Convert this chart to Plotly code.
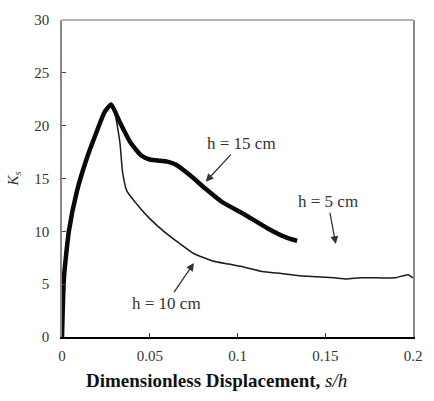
import plotly.graph_objects as go

# h = 15 cm (thick curve)
x15 = [0, 0.0003, 0.0011, 0.0039, 0.0085, 0.0141, 0.0197, 0.0243, 0.028, 0.033,
       0.039, 0.045, 0.050, 0.060, 0.065, 0.073, 0.082, 0.091, 0.104, 0.117,
       0.128, 0.134]
y15 = [0, 1.9, 5.6, 10.0, 13.8, 16.9, 19.4, 21.3, 22.0, 20.3,
       18.4, 17.2, 16.8, 16.6, 16.3, 15.3, 14.0, 12.8, 11.6, 10.3,
       9.4, 9.1]

# h = 10 cm (thin curve)
x10 = [0, 0.0003, 0.0011, 0.0039, 0.0085, 0.0141, 0.0197, 0.0243, 0.028, 0.030,
       0.033, 0.0345, 0.037, 0.043, 0.050, 0.058, 0.065, 0.075, 0.086, 0.095,
       0.104, 0.114, 0.125, 0.135, 0.145, 0.155, 0.162, 0.170, 0.180, 0.190,
       0.197, 0.200]
y10 = [0, 1.9, 5.6, 10.0, 13.8, 16.9, 19.4, 21.3, 22.0, 21.3,
       18.4, 15.6, 13.8, 12.5, 11.2, 10.0, 9.1, 7.9, 7.2, 6.9,
       6.6, 6.2, 6.0, 5.8, 5.7, 5.6, 5.5, 5.6, 5.6, 5.6,
       5.9, 5.6]

x_ticks = [0, 0.05, 0.1, 0.15, 0.2]
x_tick_labels = ["0", "0.05", "0.1", "0.15", "0.2"]
y_ticks = [0, 5, 10, 15, 20, 25, 30]
y_tick_labels = ["0", "5", "10", "15", "20", "25", "30"]

serif = "Liberation Serif"
txt = "#333333"

fig = go.Figure()
fig.add_trace(go.Scatter(x=x10, y=y10, mode="lines",
                         line=dict(color="#1a1a1a", width=1.5, shape="spline", smoothing=0.5),
                         showlegend=False))
fig.add_trace(go.Scatter(x=x15, y=y15, mode="lines",
                         line=dict(color="#0a0a0a", width=4.5, shape="spline", smoothing=0.5),
                         showlegend=False))

# (label, label x, label y, arrow head x, arrow head y)
labels = [
    ("h = 15 cm", 0.102, 18.3, 0.0819, 14.7),
    ("h = 5 cm", 0.1515, 12.8, 0.156, 8.8),
    ("h = 10 cm", 0.0596, 3.2, 0.0752, 7.0),
]
for text, lx, ly, hx, hy in labels:
    fig.add_annotation(x=hx, y=hy, ax=lx, ay=ly, axref="x", ayref="y",
                       text=text, showarrow=True, arrowhead=2, arrowsize=1.2,
                       arrowwidth=1.3, arrowcolor="#333333",
                       font=dict(family=serif, size=17, color=txt))

# x-axis title (slightly left of plot centre, as in the original)
fig.add_annotation(xref="paper", yref="paper", x=0.44, y=-0.137,
                   xanchor="center", yanchor="middle", showarrow=False,
                   text="<b>Dimensionless Displacement, </b><i>s/h</i>",
                   font=dict(family=serif, size=19, color="#111"))

fig.add_shape(type="line", xref="paper", yref="paper", x0=0, x1=1, y0=1, y1=1,
              line=dict(color="#999999", width=1.5))

fig.update_layout(
    width=434, height=401,
    margin=dict(l=62, r=13, t=16, b=64),
    plot_bgcolor="white", paper_bgcolor="white",
    xaxis=dict(range=[0, 0.2], tickvals=x_ticks, ticktext=x_tick_labels,
               ticks="inside", ticklen=4, tickcolor="#444", showgrid=False,
               zeroline=False, showline=True, linecolor="black", linewidth=1.5,
               tickfont=dict(family=serif, size=15, color=txt),
               ticklabelstandoff=4),
    yaxis=dict(range=[0, 30], tickvals=y_ticks, ticktext=y_tick_labels,
               ticks="inside", ticklen=4, tickcolor="#444", showgrid=False,
               zeroline=False, showline=True, linecolor="#888888", linewidth=1.5,
               mirror=True,
               tickfont=dict(family=serif, size=15, color=txt),
               ticklabelstandoff=8,
               title=dict(text="<i>K<sub>s</sub></i>",
                          font=dict(family=serif, size=15, color=txt), standoff=12)),
)

fig.write_html("out.html")
